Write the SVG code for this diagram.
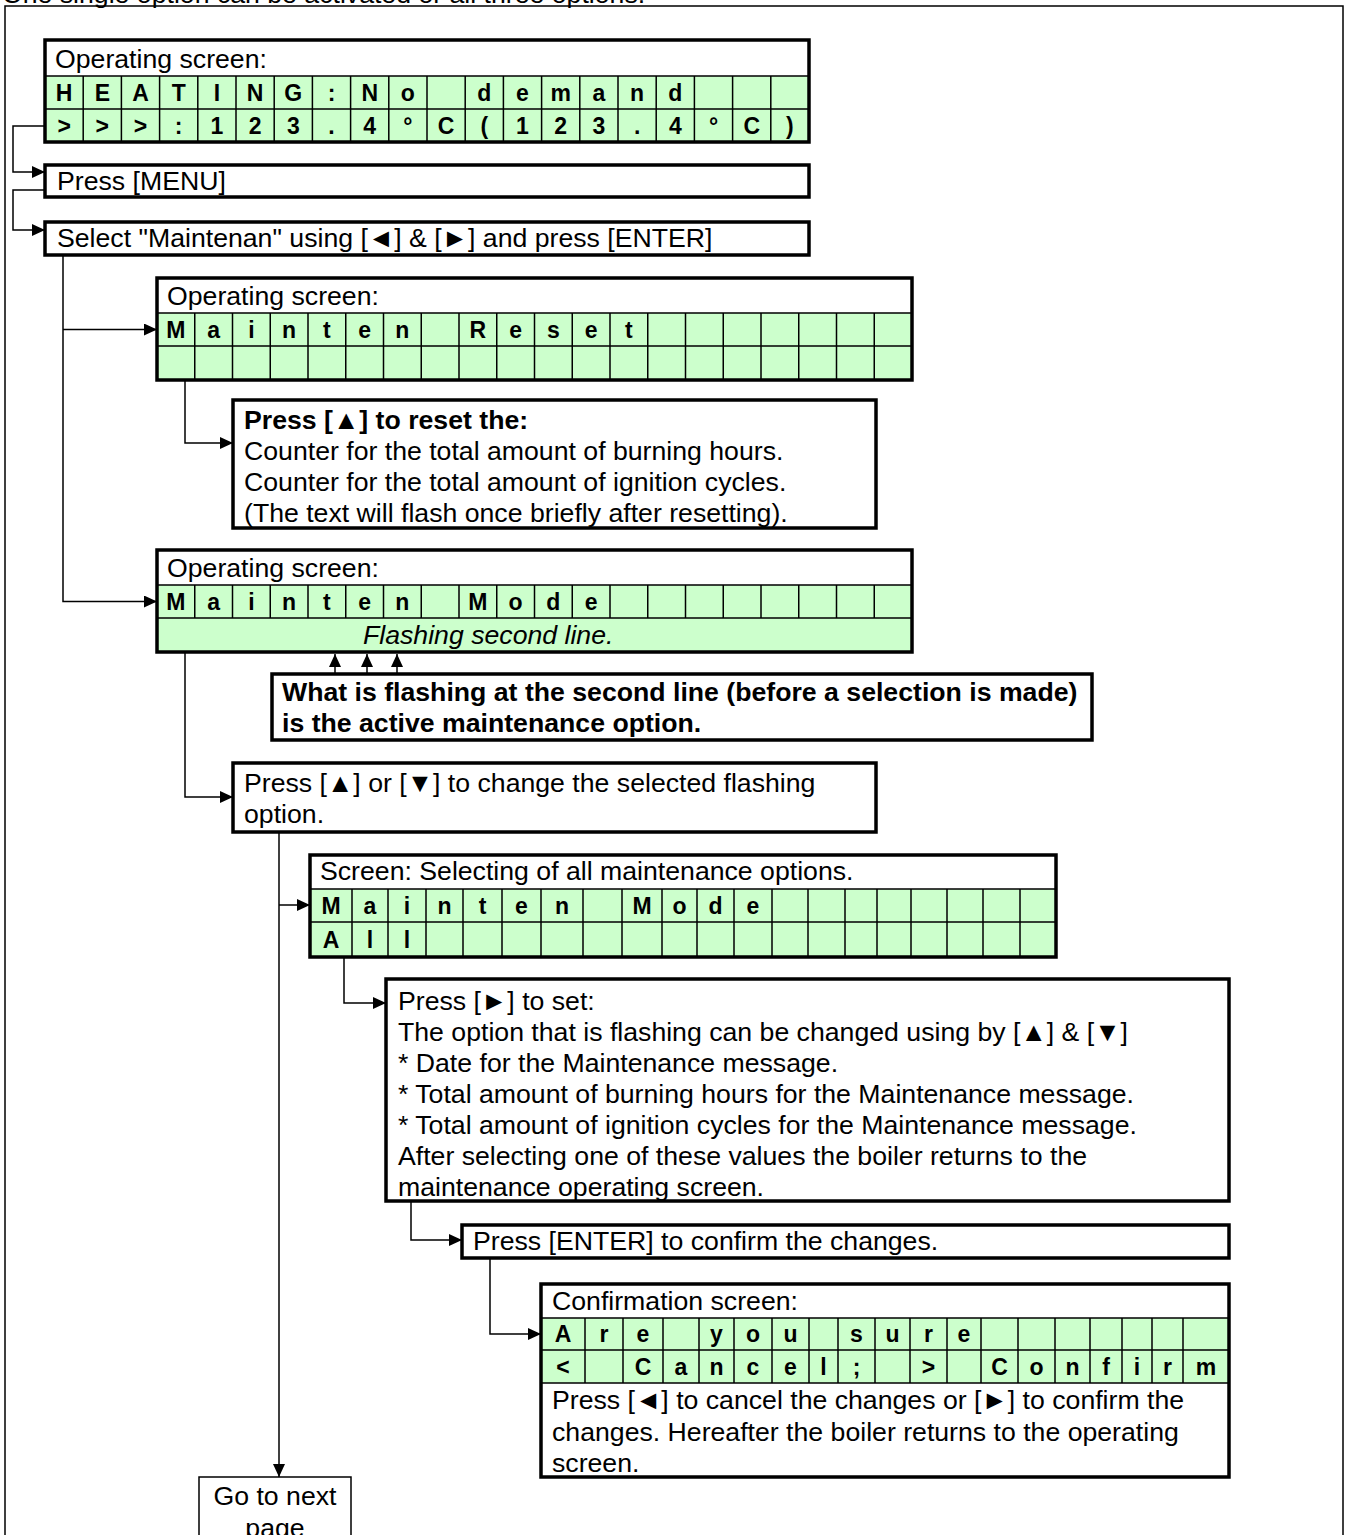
<svg xmlns="http://www.w3.org/2000/svg" width="1346" height="1535" viewBox="0 0 1346 1535">
<style>
.t{font-family:"Liberation Sans",Arial,sans-serif;font-size:26.67px;fill:#000}
.b{font-weight:bold}
.i{font-style:italic}
.c{font-family:"Liberation Sans",Arial,sans-serif;font-size:23px;font-weight:bold;text-anchor:middle;fill:#000}
.box{fill:none;stroke:#000;stroke-width:3.5}
.wbox{fill:#fff;stroke:#000;stroke-width:3.5}
.g{fill:#ccffcc}
.w{fill:#fff}
.grid{fill:none;stroke:#000;stroke-width:1.5}
.conn{fill:none;stroke:#000;stroke-width:1.5}
.arr{marker-end:url(#ah)}
</style>
<defs>
<marker id="ah" markerUnits="userSpaceOnUse" markerWidth="13" markerHeight="12" refX="13" refY="6" orient="auto">
<path d="M0,0 L13,6 L0,12 z" fill="#000"/>
</marker>
</defs>
<rect width="1346" height="1535" fill="#fff"/>

<text class="t" x="2" y="3">One single option can be activated or all three options.</text>
<path d="M5,1540 V6 H1343 V1540" fill="none" stroke="#000" stroke-width="1.5"/>

<g id="connectors">
<path class="conn arr" d="M45,126 H13 V172 H45"/>
<path class="conn arr" d="M45,190 H13 V230 H45"/>
<path class="conn arr" d="M63,255 V601.5 H157"/>
<path class="conn arr" d="M63,329.5 H157"/>
<path class="conn arr" d="M185,380 V443 H233"/>
<path class="conn arr" d="M185,652 V797 H233"/>
<path class="conn arr" d="M335,684 V654"/>
<path class="conn arr" d="M367,684 V654"/>
<path class="conn arr" d="M397,684 V654"/>
<path class="conn arr" d="M279,832 V1477"/>
<path class="conn arr" d="M279,905 H310"/>
<path class="conn arr" d="M344,957 V1003 H386"/>
<path class="conn arr" d="M411,1201 V1240 H462"/>
<path class="conn arr" d="M490,1258 V1334 H541"/>
</g>

<g id="node-heating">
<rect class="w" x="45" y="40" width="764" height="36"/>
<rect class="g" x="45" y="76" width="764" height="66"/>
<path class="grid" d="M45,76H809M45,109H809M83.2,76V142M121.4,76V142M159.6,76V142M197.8,76V142M236,76V142M274.2,76V142M312.4,76V142M350.6,76V142M388.8,76V142M427,76V142M465.2,76V142M503.4,76V142M541.6,76V142M579.8,76V142M618,76V142M656.2,76V142M694.4,76V142M732.6,76V142M770.8,76V142"/>
<rect class="box" x="45" y="40" width="764" height="102"/>
<text class="t" x="55" y="68">Operating screen:</text>
<text class="c" x="64.1 102.3 140.5 178.7 216.9 255.1 293.3 331.5 369.7 407.9 484.3 522.5 560.7 598.9 637.1 675.3" y="100.8">HEATING:Nodemand</text>
<text class="c" x="64.1 102.3 140.5 178.7 216.9 255.1 293.3 331.5 369.7 407.9 446.1 484.3 522.5 560.7 598.9 637.1 675.3 713.5 751.7 789.9" y="133.8">&gt;&gt;&gt;:123.4°C(123.4°C)</text>
</g>

<g id="node-menu">
<rect class="wbox" x="45" y="165" width="764" height="32"/>
<text class="t" x="57" y="190">Press [MENU]</text>
</g>

<g id="node-select">
<rect class="wbox" x="45" y="222" width="764" height="33"/>
<text class="t" x="57" y="247">Select "Maintenan" using [◄] &amp; [►] and press [ENTER]</text>
</g>

<g id="node-reset-screen">
<rect class="w" x="157" y="278" width="755" height="35"/>
<rect class="g" x="157" y="313" width="755" height="67"/>
<path class="grid" d="M157,313H912M157,346H912M194.75,313V380M232.5,313V380M270.25,313V380M308,313V380M345.75,313V380M383.5,313V380M421.25,313V380M459,313V380M496.75,313V380M534.5,313V380M572.25,313V380M610,313V380M647.75,313V380M685.5,313V380M723.25,313V380M761,313V380M798.75,313V380M836.5,313V380M874.25,313V380"/>
<rect class="box" x="157" y="278" width="755" height="102"/>
<text class="t" x="167" y="305">Operating screen:</text>
<text class="c" x="175.9 213.6 251.4 289.1 326.9 364.6 402.4 477.9 515.6 553.4 591.1 628.9" y="337.8">MaintenReset</text>
</g>

<g id="node-reset-info">
<rect class="wbox" x="233" y="400" width="643" height="128"/>
<text class="t b" x="244" y="429">Press [▲] to reset the:</text>
<text class="t" x="244" y="460">Counter for the total amount of burning hours.</text>
<text class="t" x="244" y="491">Counter for the total amount of ignition cycles.</text>
<text class="t" x="244" y="522">(The text will flash once briefly after resetting).</text>
</g>

<g id="node-mode-screen">
<rect class="w" x="157" y="550" width="755" height="35"/>
<rect class="g" x="157" y="585" width="755" height="67"/>
<path class="grid" d="M157,585H912M157,618H912M194.75,585V618M232.5,585V618M270.25,585V618M308,585V618M345.75,585V618M383.5,585V618M421.25,585V618M459,585V618M496.75,585V618M534.5,585V618M572.25,585V618M610,585V618M647.75,585V618M685.5,585V618M723.25,585V618M761,585V618M798.75,585V618M836.5,585V618M874.25,585V618"/>
<rect class="box" x="157" y="550" width="755" height="102"/>
<text class="t" x="167" y="577">Operating screen:</text>
<text class="c" x="175.9 213.6 251.4 289.1 326.9 364.6 402.4 477.9 515.6 553.4 591.1" y="609.8">MaintenMode</text>
<text class="t i" x="363" y="644">Flashing second line.</text>
</g>

<g id="node-flash-note">
<rect class="wbox" x="272" y="674" width="820" height="66"/>
<text class="t b" x="282" y="701">What is flashing at the second line (before a selection is made)</text>
<text class="t b" x="282" y="732">is the active maintenance option.</text>
</g>

<g id="node-change">
<rect class="wbox" x="233" y="763" width="643" height="69"/>
<text class="t" x="244" y="792">Press [▲] or [▼] to change the selected flashing</text>
<text class="t" x="244" y="823">option.</text>
</g>

<g id="node-all-screen">
<rect class="w" x="310" y="855" width="746" height="34"/>
<rect class="g" x="310" y="889" width="746" height="68"/>
<path class="grid" d="M310,889H1056M310,922H1056M352,889V957M388,889V957M426,889V957M463,889V957M502,889V957M541,889V957M583,889V957M622,889V957M662,889V957M697,889V957M734,889V957M772,889V957M808,889V957M845,889V957M877,889V957M911,889V957M947,889V957M983,889V957M1020,889V957"/>
<rect class="box" x="310" y="855" width="746" height="102"/>
<text class="t" x="320" y="880">Screen: Selecting of all maintenance options.</text>
<text class="c" x="331 370 407 444.5 482.5 521.5 562 642 679.5 715.5 753" y="913.8">MaintenMode</text>
<text class="c" x="331 370 407" y="947.5">All</text>
</g>

<g id="node-set">
<rect class="wbox" x="386" y="979" width="843" height="222"/>
<text class="t" x="398" y="1010">Press [►] to set:</text>
<text class="t" x="398" y="1041">The option that is flashing can be changed using by [▲] &amp; [▼]</text>
<text class="t" x="398" y="1072">* Date for the Maintenance message.</text>
<text class="t" x="398" y="1103">* Total amount of burning hours for the Maintenance message.</text>
<text class="t" x="398" y="1134">* Total amount of ignition cycles for the Maintenance message.</text>
<text class="t" x="398" y="1165">After selecting one of these values the boiler returns to the</text>
<text class="t" x="398" y="1196">maintenance operating screen.</text>
</g>

<g id="node-enter">
<rect class="wbox" x="462" y="1225" width="767" height="33"/>
<text class="t" x="473" y="1250">Press [ENTER] to confirm the changes.</text>
</g>

<g id="node-confirm">
<rect class="w" x="541" y="1284" width="688" height="193"/>
<rect class="g" x="541" y="1318" width="688" height="65"/>
<path class="grid" d="M541,1318H1229M541,1350H1229M541,1383H1229M585,1318V1383M623,1318V1383M663,1318V1383M699,1318V1383M734,1318V1383M772,1318V1383M809,1318V1383M838,1318V1383M875,1318V1383M910,1318V1383M947,1318V1383M981,1318V1383M1018,1318V1383M1055,1318V1383M1090,1318V1383M1122,1318V1383M1152,1318V1383M1183,1318V1383"/>
<rect class="box" x="541" y="1284" width="688" height="193"/>
<text class="t" x="552" y="1310">Confirmation screen:</text>
<text class="c" x="563 604 643 716.5 753 790.5 856.5 892.5 928.5 964" y="1342.3">Areyousure</text>
<text class="c" x="563 643 681 716.5 753 790.5 823.5 856.5 928.5 999.5 1036.5 1072.5 1106 1137 1167.5 1206" y="1374.8">&lt;Cancel;&gt;Confirm</text>
<text class="t" x="552" y="1409">Press [◄] to cancel the changes or [►] to confirm the</text>
<text class="t" x="552" y="1441">changes. Hereafter the boiler returns to the operating</text>
<text class="t" x="552" y="1472">screen.</text>
</g>

<g id="node-next-page">
<path d="M199,1540 V1477 H351 V1540" fill="#fff" stroke="#000" stroke-width="1.5"/>
<text class="t" x="275" y="1505" text-anchor="middle">Go to next</text>
<text class="t" x="275" y="1537" text-anchor="middle">page</text>
</g>
</svg>
